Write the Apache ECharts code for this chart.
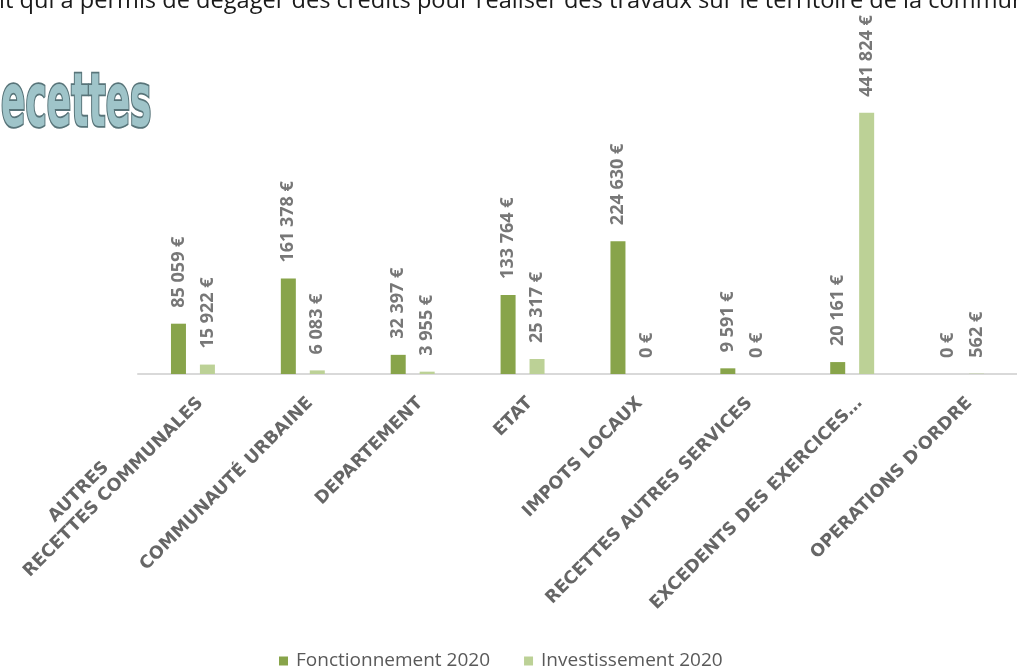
<!DOCTYPE html>
<html>
<head>
<meta charset="utf-8">
<script src="https://cdn.jsdelivr.net/npm/echarts@6/dist/echarts.min.js"></script>
<style>
html,body{margin:0;padding:0;background:#fff;}
#chart{width:1017px;height:670px;}
</style>
</head>
<body>
<div id="chart"></div>
<script>
const categories = ['AUTRES\nRECETTES COMMUNALES', 'COMMUNAUTÉ URBAINE', 'DEPARTEMENT', 'ETAT', 'IMPOTS LOCAUX', 'RECETTES AUTRES SERVICES', 'EXCEDENTS DES EXERCICES…', "OPERATIONS D'ORDRE"];
const fonctionnement = [85059, 161378, 32397, 133764, 224630, 9591, 20161, 0];
const investissement = [15922, 6083, 3955, 25317, 0, 0, 441824, 562];
const seriesNames = ['Fonctionnement 2020', 'Investissement 2020'];
const topText = 'it qui a permis de dégager des crédits pour réaliser des travaux sur le territoire de la commune';
const titleText = 'ecettes';

function euro(v) {
  return String(v).replace(/\B(?=(\d{3})+(?!\d))/g, ' ') + ' €';
}

const chart = echarts.init(document.getElementById('chart'));

const barLabel = {
  show: true,
  position: 'top',
  rotate: 90,
  align: 'left',
  verticalAlign: 'middle',
  distance: 16,
  color: '#777777',
  fontFamily: 'Open Sans',
  fontWeight: 'bold',
  fontSize: 18,
  formatter: p => euro(p.value)
};

const axisFont = { color: '#666666', fontFamily: 'DejaVu Sans', fontWeight: 'bold', fontSize: 17.5, lineHeight: 21 };

const axisData = categories.map(c => c.indexOf('\n') >= 0
  ? { value: c, textStyle: { verticalAlign: 'middle' } }
  : { value: c });

chart.setOption({
  animation: false,
  backgroundColor: '#ffffff',
  grid: { left: 138, width: 893, top: 112, height: 262, containLabel: false },
  legend: {
    data: seriesNames,
    top: 650,
    left: 279,
    icon: 'rect',
    itemWidth: 9,
    itemHeight: 9,
    itemGap: 34,
    padding: 0,
    textStyle: { color: '#595959', fontSize: 19, fontFamily: 'Open Sans', lineHeight: 22, padding: [0, 0, 0, 3] }
  },
  xAxis: {
    type: 'category',
    data: axisData,
    axisLine: { lineStyle: { color: '#d9d9d9', width: 2 } },
    axisTick: { show: false },
    axisLabel: Object.assign({
      interval: 0,
      rotate: 45,
      margin: 19,
      align: 'right',
      verticalAlign: 'top',
      formatter: function (v) {
        const parts = v.split('\n');
        if (parts.length > 1) {
          return '{c|' + parts[0] + '}\n{d|' + parts[1] + '}';
        }
        return v;
      },
      rich: {
        c: Object.assign({ align: 'center', padding: [0, 56, 0, 0] }, axisFont),
        d: Object.assign({}, axisFont)
      }
    }, axisFont)
  },
  yAxis: {
    type: 'value',
    min: 0,
    max: 443000,
    show: false,
    splitLine: { show: false }
  },
  series: [
    {
      name: seriesNames[0],
      type: 'bar',
      data: fonctionnement,
      barWidth: 15,
      barGap: '93%',
      itemStyle: { color: '#88a44a' },
      label: barLabel
    },
    {
      name: seriesNames[1],
      type: 'bar',
      data: investissement,
      barWidth: 15,
      barGap: '93%',
      itemStyle: { color: '#bcd196' },
      label: barLabel
    }
  ],
  graphic: [
    {
      type: 'text',
      x: -1,
      y: 1,
      style: {
        text: topText,
        font: '23.6px "Open Sans"',
        fill: '#1a1a1a',
        verticalAlign: 'middle',
        align: 'left'
      }
    },
    {
      type: 'text',
      x: 1,
      y: 106,
      scaleX: 0.77,
      scaleY: 1.45,
      style: {
        text: titleText,
        font: 'bold 52px "Liberation Sans Narrow", "DejaVu Sans Condensed", sans-serif',
        fill: '#9fc4c9',
        stroke: '#587479',
        lineWidth: 2.5,
        verticalAlign: 'middle',
        align: 'left'
      }
    }
  ]
});
</script>
</body>
</html>
